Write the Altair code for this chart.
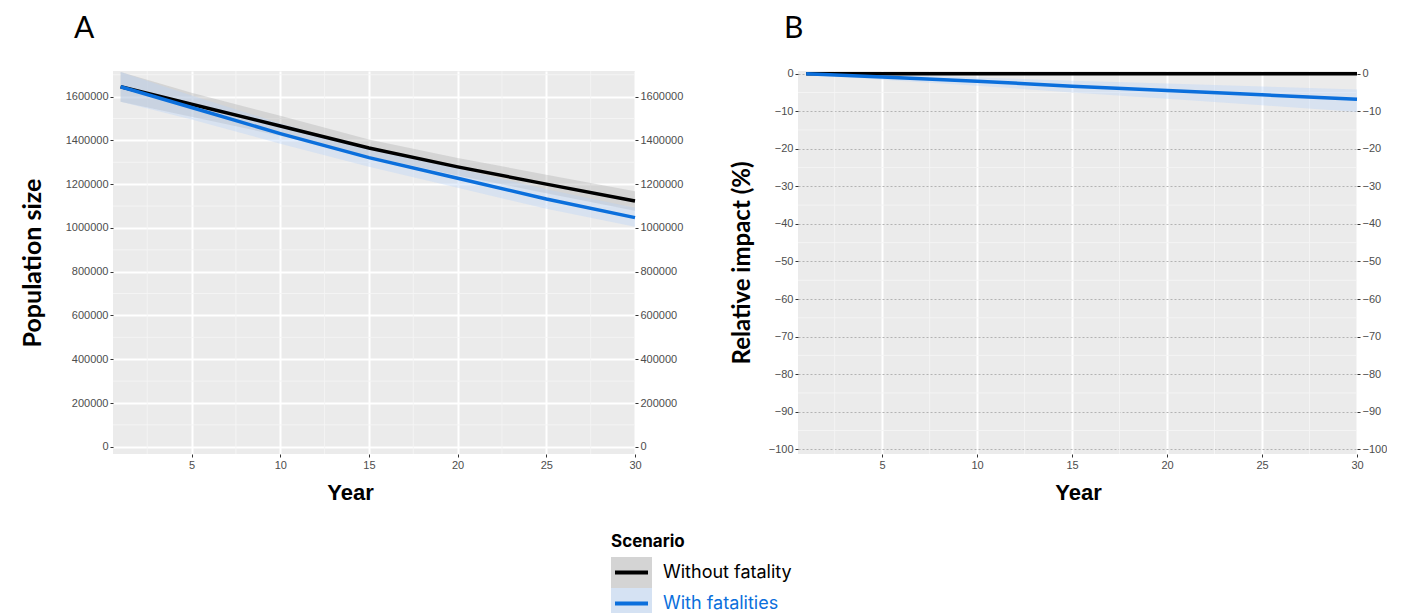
import altair as alt
import pandas as pd

# ---------------- data ----------------
scenarios = ["Without fatality", "With fatalities"]
line_colors = ["#000000", "#0b6fdc"]
band_colors = ["#a9a9a9", "#b4d1f9"]
legend_box_colors = ["#d4d4d4", "#d5e2f3"]

years = [1, 5, 10, 15, 20, 25, 30]

# Panel A: population size
popA_without = [1645000, 1565000, 1466000, 1365000, 1279000, 1200000, 1123000]
popA_without_lo = [1577000, 1508000, 1421000, 1327000, 1240000, 1158000, 1078000]
popA_without_hi = [1712000, 1618000, 1512000, 1404000, 1320000, 1243000, 1168000]
popA_with = [1645000, 1550000, 1431000, 1321000, 1227000, 1132000, 1047000]
popA_with_lo = [1577000, 1495000, 1385000, 1280000, 1183000, 1088000, 1005000]
popA_with_hi = [1712000, 1605000, 1478000, 1362000, 1272000, 1177000, 1092000]

# Panel B: relative impact (%)
relB_without = [0, 0, 0, 0, 0, 0, 0]
relB_without_lo = [0, 0, 0, 0, 0, 0, 0]
relB_without_hi = [0, 0, 0, 0, 0, 0, 0]
relB_with = [0, -0.9, -2.0, -3.35, -4.5, -5.65, -6.8]
relB_with_lo = [0, -1.6, -3.2, -5.0, -6.7, -8.4, -10.2]
relB_with_hi = [0, -0.3, -1.0, -1.9, -2.6, -3.4, -4.2]

x_major = [5, 10, 15, 20, 25, 30]
x_minor = [2.5, 7.5, 12.5, 17.5, 22.5, 27.5]
yA_major = [0, 200000, 400000, 600000, 800000, 1000000, 1200000, 1400000, 1600000]
yA_minor = [100000, 300000, 500000, 700000, 900000, 1100000, 1300000, 1500000, 1700000]
yB_major = [0, -10, -20, -30, -40, -50, -60, -70, -80, -90, -100]
yB_minor = [-5, -15, -25, -35, -45, -55, -65, -75, -85, -95]

# ---------------- helpers ----------------
BG = "#EBEBEB"
LABEL_FONT = "Liberation Sans"
TITLE_FONT = "Lato"


def series_df(mean, lo, hi):
    return pd.DataFrame({"year": years, "value": mean, "lo": lo, "hi": hi})


def panel(series, y_domain, y_major, y_minor, y_title, width, height,
          panel_title, title_dx, title_offset, major_grid_color, major_grid_dash,
          x_title_x, y_title_padding, y_title_size):
    xscale = alt.Scale(domain=[0.57, 30], nice=False, zero=False)
    yscale = alt.Scale(domain=y_domain, nice=False, zero=False)

    lab = dict(labelFont=LABEL_FONT, labelFontSize=11, labelColor="#4d4d4d",
               tickSize=3, tickColor="#333333", tickWidth=1, labelPadding=2,
               domain=False)

    x_axis = alt.Axis(values=x_major, grid=True, gridColor="white", gridWidth=2,
                      title="Year", titleFont=LABEL_FONT, titleFontSize=22,
                      titleFontWeight="bold", titleColor="black", titlePadding=12,
                      titleX=x_title_x, labelFlush=False, **lab)
    y_axis_left = alt.Axis(values=y_major, grid=True, gridColor=major_grid_color,
                           gridWidth=2 if major_grid_dash is None else 1.2,
                           gridDash=major_grid_dash if major_grid_dash else [],
                           format="d", title=y_title, titleFont=TITLE_FONT,
                           titleFontSize=y_title_size, titleFontWeight="bold",
                           titleColor="black", titlePadding=y_title_padding, **lab)
    y_axis_right = alt.Axis(values=y_major, orient="right", grid=False, format="d",
                            title=None, **lab)

    minor_x = alt.Chart(pd.DataFrame({"v": x_minor})).mark_rule(
        color="#f5f5f5", strokeWidth=0.9).encode(
        x=alt.X("v:Q", scale=xscale, axis=None))
    minor_y = alt.Chart(pd.DataFrame({"v": y_minor})).mark_rule(
        color="#f5f5f5", strokeWidth=0.9).encode(
        y=alt.Y("v:Q", scale=yscale, axis=None))

    layers = [minor_x, minor_y]
    for i, (df, bcol) in enumerate(zip(series, band_colors)):
        band = alt.Chart(df).mark_area(color=bcol, opacity=0.35).encode(
            x=alt.X("year:Q", scale=xscale, axis=x_axis if i == 0 else None),
            y=alt.Y("lo:Q", scale=yscale, axis=y_axis_left if i == 0 else None),
            y2="hi:Q",
        )
        layers.append(band)
    for i, (df, lcol) in enumerate(zip(series, line_colors)):
        line = alt.Chart(df).mark_line(color=lcol, strokeWidth=3.5).encode(
            x=alt.X("year:Q", scale=xscale, axis=None),
            y=alt.Y("value:Q", scale=yscale, axis=y_axis_right if i == 0 else None),
        )
        layers.append(line)

    return alt.layer(*layers).resolve_axis(x="independent", y="independent").properties(
        width=width, height=height,
        view=alt.ViewBackground(fill=BG, stroke=None),
        title=alt.TitleParams(panel_title, anchor="start", frame="group",
                              font=TITLE_FONT, fontSize=30, fontWeight="normal",
                              color="black", dx=title_dx, offset=title_offset,
                              baseline="alphabetic"),
    )


chartA = panel(
    [series_df(popA_without, popA_without_lo, popA_without_hi),
     series_df(popA_with, popA_with_lo, popA_with_hi)],
    [-33000, 1717000], yA_major, yA_minor, "Population size", 522, 383,
    "A", -39, 3, "white", None, 237, 20, 25)

chartB = panel(
    [series_df(relB_without, relB_without_lo, relB_without_hi),
     series_df(relB_with, relB_with_lo, relB_with_hi)],
    [-101.25, 0.7], yB_major, yB_minor, "Relative impact (%)", 559, 383,
    "B", -14, -1, "#b3b3b3", [2, 2], 280, 14, 24)

# ---------------- legend ----------------
LEG_X = 498
leg_df = pd.DataFrame({"scenario": scenarios, "line": line_colors,
                       "box": legend_box_colors})
ly = alt.Y("scenario:N", sort=scenarios, axis=None,
           scale=alt.Scale(paddingInner=0, paddingOuter=0))
leg_box = alt.Chart(leg_df).mark_rect().encode(
    x=alt.value(LEG_X), x2=alt.value(LEG_X + 41), y=ly,
    fill=alt.Fill("box:N", scale=None))
leg_line = alt.Chart(leg_df).mark_rule(strokeWidth=4).encode(
    x=alt.value(LEG_X + 4), x2=alt.value(LEG_X + 37), y=ly,
    color=alt.Color("line:N", scale=None))
leg_text = alt.Chart(leg_df).mark_text(align="left", baseline="middle", font="Inter",
                                       fontSize=18).encode(
    x=alt.value(LEG_X + 52), y=ly, text="scenario:N",
    color=alt.Color("line:N", scale=None))
legend = alt.layer(leg_box, leg_line, leg_text).properties(
    width=900, height=62,
    view=alt.ViewBackground(fill="white", stroke=None),
    title=alt.TitleParams("Scenario", anchor="start", frame="group", font="Inter",
                          fontSize=17, fontWeight="bold", color="black", offset=6,
                          dx=LEG_X),
)

top = alt.hconcat(chartA, chartB, spacing=47)
chart = alt.vconcat(top, legend, spacing=30).properties(
    padding={"left": 12, "top": 5, "right": 0, "bottom": 0},
).configure_view(stroke=None)

chart.save("out.html", embed_options={"renderer": "svg", "actions": False})
